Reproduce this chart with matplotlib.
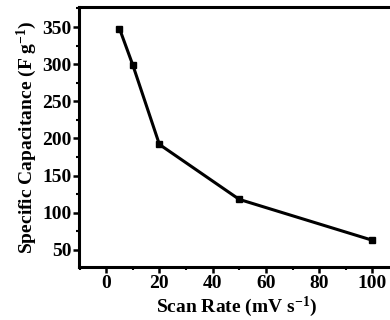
import matplotlib
matplotlib.use("Agg")
import matplotlib.pyplot as plt
from matplotlib.ticker import MultipleLocator

# scan rate (mV/s) vs specific capacitance (F/g)
scan_rate = [5, 10, 20, 50, 100]
capacitance = [348, 299, 192, 118, 63]

plt.rcParams['font.family'] = ['Liberation Serif', 'DejaVu Serif']
plt.rcParams['font.weight'] = 'bold'
plt.rcParams['mathtext.fontset'] = 'custom'
plt.rcParams['mathtext.rm'] = 'Liberation Serif:bold'
plt.rcParams['mathtext.default'] = 'rm'

fig = plt.figure(figsize=(3.9, 3.2), dpi=100)
ax = fig.add_axes([79/390, 1 - 267/320, (395 - 79)/390, (267 - 7)/320])

ax.plot(scan_rate, capacitance, color='black', lw=2.2, marker='s', ms=4)

ax.set_xlim(-10.2, 108.5)
ax.set_ylim(27, 377)
ax.xaxis.set_major_locator(MultipleLocator(20))
ax.xaxis.set_minor_locator(MultipleLocator(10))
ax.yaxis.set_major_locator(MultipleLocator(50))
ax.yaxis.set_minor_locator(MultipleLocator(25))
ax.set_yticks([50, 100, 150, 200, 250, 300, 350])

for s in ax.spines.values():
    s.set_linewidth(2.2)
ax.spines['right'].set_visible(False)

ax.tick_params(which='major', direction='out', length=4, width=1.8, labelsize=14, pad=1.5)
ax.tick_params(which='minor', direction='out', length=2.5, width=1.5)
for lab in ax.get_xticklabels() + ax.get_yticklabels():
    lab.set_fontweight('bold')

ax.set_xlabel('Scan Rate (mV s$^{-1}$)', fontsize=14, fontweight='bold', labelpad=2)
ax.set_ylabel('Specific Capacitance (F g$^{-1}$)', fontsize=14, fontweight='bold', labelpad=2)

fig.savefig('out.png', dpi=100)
